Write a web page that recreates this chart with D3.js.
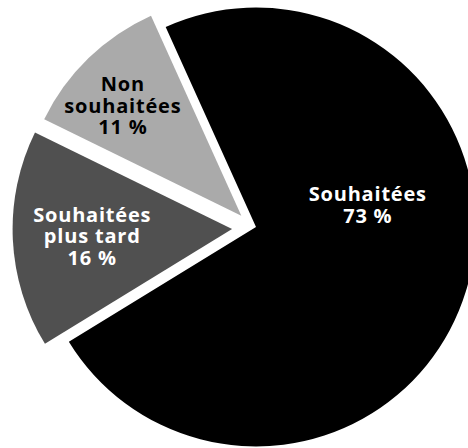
<!DOCTYPE html>
<html>
<head>
<meta charset="utf-8">
<script src="https://cdn.jsdelivr.net/npm/d3@7"></script>
<style>
  html, body { margin: 0; padding: 0; background: #fff; }
  svg { display: block; }
  text { font-family: "Open Sans", "Noto Sans", sans-serif; font-weight: bold; letter-spacing: 0.8px; }
</style>
</head>
<body>
<div id="chart"></div>
<script>
// data, clockwise from the lower left
let categories = ["Souhaitées plus tard", "Non souhaitées", "Souhaitées"];
let values = [16, 11, 73];
let labelLines = [["Souhaitées", "plus tard", "16 %"], ["Non", "souhaitées", "11 %"], ["Souhaitées", "73 %"]];

let colors = ["#505050", "#aaaaaa", "#000000"];
let textColors = ["#ffffff", "#000000", "#ffffff"];

// pulled-out slices: offset distance and direction (degrees, clockwise from 12 o'clock)
let explode = [{dist: 24, angle: 265}, {dist: 18.5, angle: 307.5}, {dist: 0, angle: 0}];
// label position from the slice apex: radius and angle
let labelPos = [{r: 140, angle: 267.3}, {r: 162, angle: 313}, {r: 114, angle: 78.7}];

let width = 468, height = 448;
let cx = 256, cy = 227, radius = 219.5;
let lineHeight = 21.5, fontSize = 20, capHalf = 7.5;

let rad = deg => deg * Math.PI / 180;
let polar = (r, deg) => [Math.sin(rad(deg)) * r, -Math.cos(rad(deg)) * r];

let svg = d3.select("#chart").append("svg")
    .attr("width", width)
    .attr("height", height)
  .append("g")
    .attr("transform", "translate(" + cx + "," + cy + ")");

let pie = d3.pie()
    .sort(null)
    .value(d => d)
    .startAngle(rad(238.5))
    .endAngle(rad(238.5 + 360));

let arc = d3.arc().innerRadius(0).outerRadius(radius);

let slices = svg.selectAll(".slice")
    .data(pie(values))
    .enter().append("g")
    .attr("class", "slice")
    .attr("transform", (d, i) => {
        let o = polar(explode[i].dist, explode[i].angle);
        return "translate(" + o[0] + "," + o[1] + ")";
    });

slices.append("path")
    .attr("d", arc)
    .attr("fill", (d, i) => colors[i]);

slices.append("text")
    .attr("text-anchor", "middle")
    .attr("font-size", fontSize)
    .attr("fill", (d, i) => textColors[i])
    .each(function(d, i) {
        let p = polar(labelPos[i].r, labelPos[i].angle);
        let lines = labelLines[i];
        let y0 = p[1] - (lines.length - 1) * lineHeight / 2 + capHalf;
        d3.select(this).selectAll("tspan")
            .data(lines)
            .enter().append("tspan")
            .attr("x", p[0])
            .attr("y", (t, j) => y0 + j * lineHeight)
            .text(t => t);
    });
</script>
</body>
</html>
